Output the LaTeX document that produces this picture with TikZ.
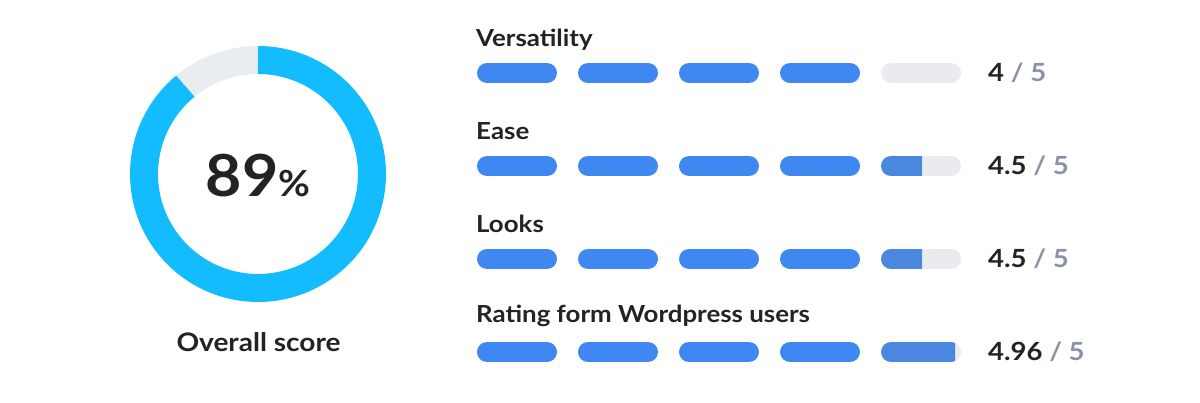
\documentclass[tikz,border=0pt]{standalone}
\usepackage{fontspec}
\setmainfont{Lato}[BoldFont={Lato Bold}]
\newfontfamily\semifont{Lato Bold}[FakeStretch=1.1]
\newfontfamily\bigfont{Lato Bold}[FakeStretch=1.08]
\definecolor{ringblue}{HTML}{12BCFF}
\definecolor{ringgray}{HTML}{E9ECF1}
\definecolor{barblue}{HTML}{3F88F2}
\definecolor{partblue}{HTML}{4A87DF}
\definecolor{bargray}{HTML}{E9EBEF}
\definecolor{txt}{HTML}{222326}
\definecolor{muted}{HTML}{8A93A5}
\tikzset{
  barfull/.style={line width=20pt, line cap=round, barblue},
  barempty/.style={line width=20pt, line cap=round, bargray},
  barpart/.style={line width=20pt, line cap=round, partblue},
  lbl/.style={anchor=base west, inner sep=0pt, text=txt, font=\semifont\fontsize{23.5}{26}\selectfont},
  score/.style={anchor=base west, inner sep=0pt, text=txt, font=\semifont\fontsize{25}{28}\selectfont},
}
\begin{document}
\begin{tikzpicture}[x=1pt,y=1pt]
\useasboundingbox (0,0) rectangle (1200,403);
\fill[white] (0,0) rectangle (1200,403);
% donut
\coordinate (c) at (258,229);
\draw[ringgray, line width=28pt] (c) ++(90:114) arc[start angle=90, end angle=129.6, radius=114];
\draw[ringblue, line width=28pt] (c) ++(129.6:114) arc[start angle=129.6, end angle=450, radius=114];
\node[anchor=base, inner sep=0pt, text=txt] (pct) at (258,206) {\bigfont\fontsize{58}{60}\selectfont 89\fontsize{36}{40}\selectfont\%};
\node[anchor=base, inner sep=0pt, text=txt, font=\semifont\fontsize{25.5}{28}\selectfont] (overall) at (258.5,51) {Overall score};
% rows
\foreach \name/\ylab/\ybar/\full/\part/\sc [count=\i] in {
  Versatility/356/330/4/0/4,
  Ease/263/237/4/922/4.5,
  Looks/170/144/4/922/4.5,
  Rating form Wordpress users/80/51/4/955/4.96}{
  \node[lbl] (lab\i) at (476,\ylab) {\name};
  \foreach \k in {1,...,5}{
    \pgfmathsetmacro{\xa}{477+101*(\k-1)}
    \pgfmathsetmacro{\xb}{\xa+80}
    \ifnum\k>\full
      \draw[barempty] (\xa+10,\ybar) -- (\xb-10,\ybar);
    \else
      \draw[barfull] (\xa+10,\ybar) -- (\xb-10,\ybar);
    \fi
  }
  \ifnum\part>0
    \begin{scope}
      \clip (870,\ybar-12) rectangle (\part,\ybar+12);
      \draw[barpart] (891,\ybar) -- (951,\ybar);
    \end{scope}
  \fi
  \node[score] (sc\i) at (988,\ybar-8.5) {\sc\ \textcolor{muted}{/\ 5}};
}
\end{tikzpicture}
\end{document}
